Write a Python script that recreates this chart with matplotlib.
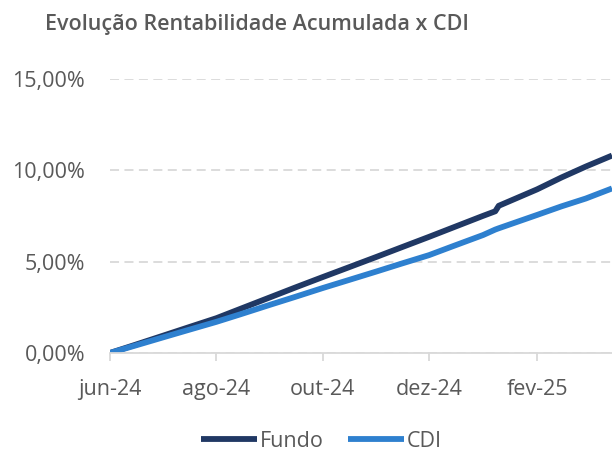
import matplotlib
matplotlib.use("Agg")
import matplotlib.pyplot as plt
import pandas as pd

# semi-monthly readings of the cumulative return (%)
dates = ["2024-06-01", "2024-06-15", "2024-07-01", "2024-07-15", "2024-08-01",
         "2024-08-15", "2024-09-01", "2024-09-15", "2024-10-01", "2024-10-15",
         "2024-11-01", "2024-11-15", "2024-12-01", "2024-12-15", "2025-01-01",
         "2025-01-08", "2025-01-10", "2025-02-01", "2025-02-15", "2025-03-01",
         "2025-03-16"]
fundo = [0.00, 0.43, 0.93, 1.37, 1.90, 2.42, 3.05, 3.57, 4.15, 4.65,
         5.26, 5.77, 6.35, 6.87, 7.50, 7.75, 8.05, 8.95, 9.60, 10.20, 10.80]
cdi = [0.00, 0.39, 0.84, 1.23, 1.70, 2.12, 2.64, 3.06, 3.55, 3.96,
       4.46, 4.88, 5.35, 5.85, 6.45, 6.75, 6.82, 7.55, 8.02, 8.45, 9.00]

tick_dates = ["2024-06-01", "2024-08-01", "2024-10-01", "2024-12-01", "2025-02-01"]
tick_labels = ["jun-24", "ago-24", "out-24", "dez-24", "fev-25"]
y_ticks = [0, 5, 10, 15]
y_labels = ["0,00%", "5,00%", "10,00%", "15,00%"]

x = pd.to_datetime(dates)
grey = "#595959"
plt.rcParams['font.family'] = ['Open Sans', 'DejaVu Sans']

fig = plt.figure(figsize=(6.12, 4.53), dpi=100)
ax = fig.add_axes([0.18, 0.221, 0.82, 0.605])

ax.plot(x, fundo, color="#203864", linewidth=4.2, label="Fundo", solid_capstyle="butt")
ax.plot(x, cdi, color="#2E80CF", linewidth=4.2, label="CDI", solid_capstyle="butt")

ax.set_xlim(pd.Timestamp("2024-06-01"), pd.Timestamp("2025-03-16"))
ax.set_ylim(0, 15)
ax.set_yticks(y_ticks)
ax.set_yticklabels(y_labels)
ax.set_xticks(pd.to_datetime(tick_dates))
ax.set_xticklabels(tick_labels)

ax.grid(axis="y", color="#D9D9D9", linestyle=(0, (5, 3)), linewidth=1.3)
ax.set_axisbelow(True)
for s in ["top", "right", "left"]:
    ax.spines[s].set_visible(False)
ax.spines["bottom"].set_color("#D9D9D9")
ax.spines["bottom"].set_linewidth(1.3)
ax.tick_params(axis="y", length=0, pad=18, labelsize=15.5, labelcolor=grey)
ax.tick_params(axis="x", length=6, width=1.3, color="#D9D9D9", pad=13,
               labelsize=15.5, labelcolor=grey)

fig.text(0.42, 0.946, "Evolução Rentabilidade Acumulada x CDI", ha="center", va="center",
         fontsize=15.5, fontweight="semibold", color=grey)

fig.legend(loc="center", bbox_to_anchor=(0.525, 0.026), ncol=2, frameon=False,
           fontsize=15.5, labelcolor=grey, handlelength=2.6, handletextpad=0.15,
           columnspacing=1.1)

fig.savefig("out.png", dpi=100)
